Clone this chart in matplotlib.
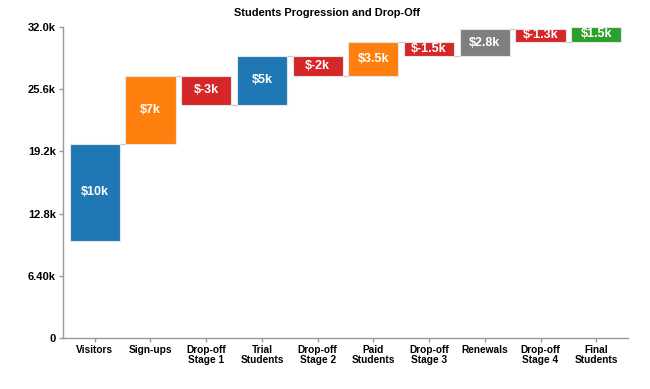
import matplotlib.pyplot as plt
from matplotlib.ticker import FixedLocator

plt.rcParams['font.family'] = ['Liberation Sans', 'DejaVu Sans']

stages = ["Visitors", "Sign-ups", "Drop-off\nStage 1", "Trial\nStudents", "Drop-off\nStage 2",
          "Paid\nStudents", "Drop-off\nStage 3", "Renewals", "Drop-off\nStage 4", "Final\nStudents"]
changes = [10000, 7000, -3000, 5000, -2000, 3500, -1500, 2800, -1300, 1500]
labels = ["$10k", "$7k", "$-3k", "$5k", "$-2k", "$3.5k", "$-1.5k", "$2.8k", "$-1.3k", "$1.5k"]
colors = ["#1f77b4", "#ff7f0e", "#d62728", "#1f77b4", "#d62728",
          "#ff7f0e", "#d62728", "#7f7f7f", "#d62728", "#2ca02c"]
start = 10000
yticks = [0, 6400, 12800, 19200, 25600, 32000]
ytick_labels = ["0", "6.40k", "12.8k", "19.2k", "25.6k", "32.0k"]

fig = plt.figure(figsize=(6.5, 3.89), dpi=100)
ax = fig.add_axes([63 / 650, 51 / 389, 565 / 650, 311 / 389])

w = 0.9
level = start
ends = []
for i, ch in enumerate(changes):
    lo, hi = (level, level + ch) if ch > 0 else (level + ch, level)
    ax.bar(i, hi - lo, bottom=lo, width=w, color=colors[i], edgecolor="#e6e6e6", linewidth=0.8, zorder=2)
    ax.text(i, (lo + hi) / 2, labels[i], ha="center", va="center", color="white",
            fontsize=9, fontweight="bold", zorder=3)
    level += ch
    ends.append(level)

# connector lines between bars
for i in range(len(changes) - 1):
    ax.plot([i + w / 2, i + 1 - w / 2], [ends[i], ends[i]], color="#cccccc", lw=1, zorder=1)

ax.set_xlim(-0.57, 9.57)
ax.set_ylim(0, 32000)
ax.set_xticks(range(len(stages)))
ax.set_xticklabels(stages, fontsize=7.3, fontweight="bold", linespacing=1.05)
ax.yaxis.set_major_locator(FixedLocator(yticks))
ax.set_yticklabels(ytick_labels, fontsize=8, fontweight="bold")
ax.tick_params(colors="#999999", labelcolor="black", length=3, width=1, pad=2)
for s in ["top", "right"]:
    ax.spines[s].set_visible(False)
for s in ["left", "bottom"]:
    ax.spines[s].set_color("#999999")
    ax.spines[s].set_linewidth(1)

fig.suptitle("Students Progression and Drop-Off", x=327 / 650, y=1 - 13 / 389, va="center",
             fontsize=7.9, fontweight="bold")

fig.savefig("out.png", dpi=100)
